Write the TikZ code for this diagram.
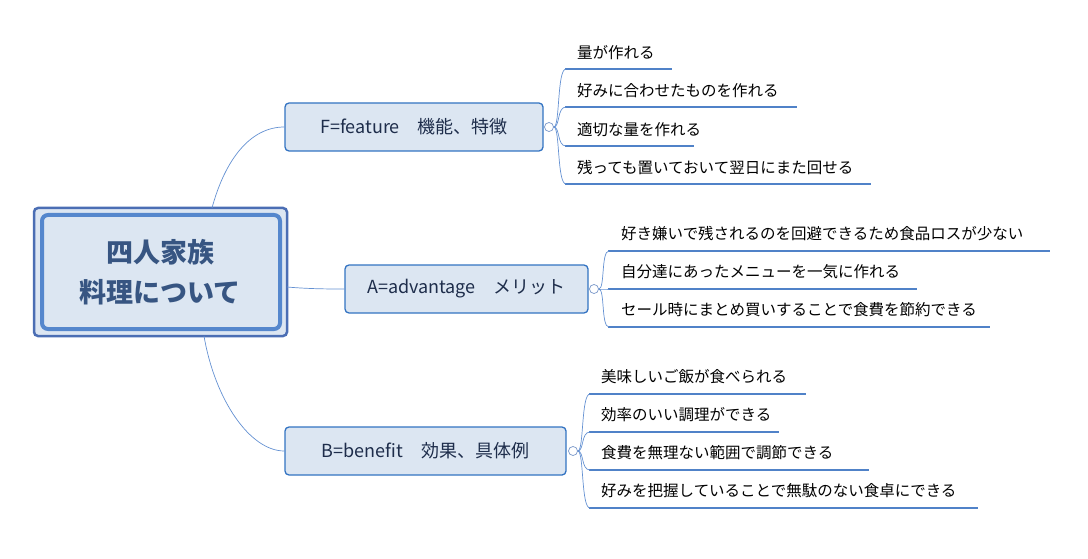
\documentclass[tikz,border=0pt]{standalone}
\usepackage{fontspec}
\setmainfont{Noto Sans CJK JP}
\begin{document}
\begin{tikzpicture}[x=1pt,y=-1pt,
  line/.style={draw=blue!45!cyan!60!black!70, line width=0.6pt},
  br/.style={draw=blue!55!cyan!70!black!80,line width=1.3pt,rounded corners=4pt,fill={rgb,255:red,220;green,230;blue,242},inner sep=0pt},
  btext/.style={font=\fontsize{18}{20}\selectfont,text={rgb,255:red,30;green,45;blue,75}},
  leaf/.style={font=\fontsize{15.5}{18}\selectfont,anchor=west,inner sep=0pt},
  ul/.style={draw={rgb,255:red,80;green,130;blue,200},line width=2.2pt},
  cc/.style={circle,draw={rgb,255:red,120;green,150;blue,200},line width=0.7pt,minimum size=9pt,inner sep=0pt}]
\colorlet{lc}{blue!60!cyan!70!black!80}
\useasboundingbox (0,0) rectangle (1088,559);
\tikzset{line/.style={draw={rgb,255:red,100;green,145;blue,210},line width=0.7pt}}
% central
\draw[draw={rgb,255:red,75;green,110;blue,180},line width=2.5pt,rounded corners=4pt,fill={rgb,255:red,220;green,230;blue,242}] (34,208) rectangle (287,336);
\draw[draw={rgb,255:red,85;green,135;blue,205},line width=4pt,rounded corners=6pt] (42,215) rectangle (280,329);
\node[font=\fontsize{27}{40}\selectfont\bfseries,text={rgb,255:red,55;green,85;blue,130},align=center] (c) at (160,272) {四人家族\\料理について};
\coordinate (cF) at (212,208);
\coordinate (cA) at (287,287);
\coordinate (cB) at (204,336);
% branches
\node[br,minimum width=258pt,minimum height=48pt] (F) at (414,127) {};
\node[btext] at (F) {F=feature\quad 機能、特徴};
\node[br,minimum width=243pt,minimum height=48pt] (A) at (466.5,289) {};
\node[btext] at (A) {A=advantage\quad メリット};
\node[br,minimum width=281pt,minimum height=48pt] (B) at (425.5,451) {};
\node[btext] at (B) {B=benefit\quad 効果、具体例};
\draw[line] (cF) .. controls (225,160) and (250,127) .. (F.west);
\draw[line] (cA) .. controls (310,289) and (330,289) .. (A.west);
\draw[line] (cB) .. controls (215,400) and (250,451) .. (B.west);
\node[cc] (cf) at (549,127) {};
\node[cc] (ca) at (594,289) {};
\node[cc] (cb) at (573,451) {};
% F leaves
\foreach \y/\e/\t in {69/672/量が作れる,107/797/好みに合わせたものを作れる,146/694/適切な量を作れる,184/871/残っても置いておいて翌日にまた回せる}{
  \draw[ul] (565,\y) -- (\e,\y);
  \node[leaf] at (577,\y-16) {\t};
  \draw[line] (cf.east) .. controls (560,127) and (557,\y) .. (566,\y);
}
\foreach \y/\e/\t in {251/1050/好き嫌いで残されるのを回避できるため食品ロスが少ない,289/917/自分達にあったメニューを一気に作れる,327/990/セール時にまとめ買いすることで食費を節約できる}{
  \draw[ul] (608,\y) -- (\e,\y);
  \node[leaf] at (621,\y-17) {\t};
  \draw[line] (ca.east) .. controls (605,289) and (601,\y) .. (609,\y);
}
\foreach \y/\e/\t in {394/806/美味しいご飯が食べられる,432/779/効率のいい調理ができる,470/869/食費を無理ない範囲で調節できる,508/978/好みを把握していることで無駄のない食卓にできる}{
  \draw[ul] (589,\y) -- (\e,\y);
  \node[leaf] at (601,\y-17) {\t};
  \draw[line] (cb.east) .. controls (584,451) and (581,\y) .. (590,\y);
}
\end{tikzpicture}
\end{document}
